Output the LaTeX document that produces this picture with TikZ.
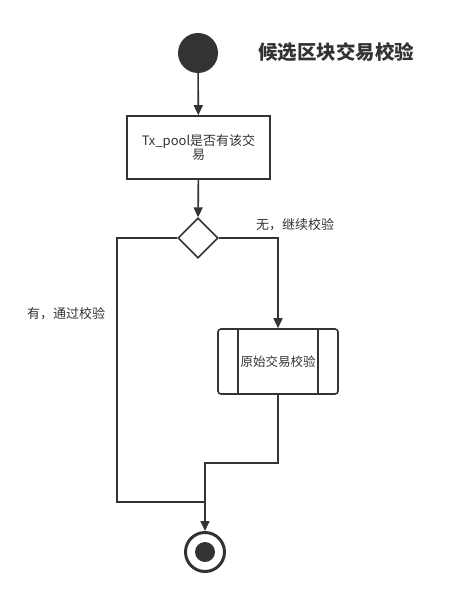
\documentclass[tikz,border=0pt]{standalone}
\usepackage{fontspec}
\newfontfamily\cjk{Noto Sans CJK SC}
\usetikzlibrary{shapes.geometric,arrows.meta}
\definecolor{ink}{HTML}{333333}
\begin{document}
\begin{tikzpicture}[x=1bp,y=-1bp,
  line/.style={draw=ink,line width=1.6bp},
  arr/.style={line,-{Triangle[length=10bp,width=9bp]}},
  lbl/.style={font=\cjk\fontsize{13bp}{15bp}\selectfont,text=ink,inner sep=0pt}]
\useasboundingbox (0,0) rectangle (451,597);
% start
\node[circle,fill=ink,minimum size=40bp,inner sep=0pt] (start) at (198,53) {};
\node[font=\cjk\bfseries\fontsize{19.5bp}{22bp}\selectfont,text=ink,anchor=west,inner sep=0pt] (title) at (258,52) {候选区块交易校验};
% box
\node[line,minimum width=143bp,minimum height=63bp,inner sep=0pt,align=center,font=\cjk\fontsize{13bp}{14.5bp}\selectfont,text=ink] (tx) at (198.5,147.5) {Tx\_pool是否有该交\\易};
% diamond
\node[line,diamond,minimum width=40bp,minimum height=40bp,inner sep=0pt,aspect=1] (dec) at (198,238) {};
% subprocess
\node[line,rounded corners=3bp,minimum width=120bp,minimum height=65bp,inner sep=0pt] (sub) at (278,361.5) {};
\node[lbl,font=\cjk\fontsize{12.5bp}{15bp}\selectfont] (subt) at (278,362) {原始交易校验};
\draw[line] (238,329) -- (238,394);
\draw[line] (318,329) -- (318,394);
% end
\node[circle,draw=ink,line width=3bp,minimum size=39bp,inner sep=0pt] (end) at (205,552) {};
\node[circle,fill=ink,minimum size=20bp,inner sep=0pt] (endin) at (205,552) {};
% labels
\node[lbl,anchor=west] (l1) at (256,225) {无，继续校验};
\node[lbl,anchor=west] (l2) at (27,314) {有，通过校验};
% connectors
\draw[arr] (start) -- (tx);
\draw[arr] (tx) -- (dec);
\coordinate (rt) at (278,238);
\draw[arr] (dec.east) -- (rt) -- (sub.north);
\coordinate (lt) at (117,238);
\coordinate (lb) at (117,502);
\coordinate (jn) at (205,502);
\draw[line] (dec.west) -- (lt) -- (lb) -- (jn);
\coordinate (sb) at (278,463);
\coordinate (sj) at (205,463);
\draw[arr] (sub.south) -- (sb) -- (sj) -- (end.north);
\end{tikzpicture}
\end{document}
